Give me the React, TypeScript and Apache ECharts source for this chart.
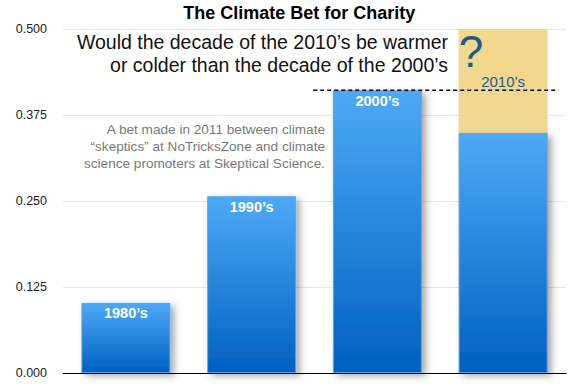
import React, { useEffect, useRef } from "react";
import * as echarts from "echarts";

const categories = ["1980’s", "1990’s", "2000’s", "2010’s"];
const decadeValues = [0.102, 0.257, 0.411, 0.349];
const uncertainTop = [null, null, null, 0.5];
const yTicks = [0, 0.125, 0.25, 0.375, 0.5];
const betLine = [
  [1.49, 0.411],
  [3.44, 0.411],
];

const FONT = "'Liberation Sans', Helvetica, Arial, sans-serif";

export default function App() {
  const ref = useRef<HTMLDivElement>(null);
  useEffect(() => {
    if (!ref.current) return;
    const chart = echarts.init(ref.current, null, { renderer: "svg" });
    const blueGrad = new echarts.graphic.LinearGradient(0, 0, 0, 1, [
      { offset: 0, color: "#4ea9f6" },
      { offset: 1, color: "#0060c2" },
    ]);
    chart.setOption({
      animation: false,
      grid: { left: 63, right: 4, top: 29, bottom: 16 },
      xAxis: [
        {
          type: "category",
          data: categories,
          axisLine: { show: true, lineStyle: { color: "#000", width: 1.2 } },
          axisTick: { show: false },
          axisLabel: { show: false },
          splitLine: { show: false },
        },
        {
          type: "value",
          min: -0.5,
          max: 3.5,
          show: false,
        },
      ],
      yAxis: {
        type: "value",
        min: yTicks[0],
        max: yTicks[yTicks.length - 1],
        interval: 0.125,
        axisLine: { show: false },
        axisTick: { show: false },
        axisLabel: {
          formatter: (v: number) => v.toFixed(3),
          color: "#222",
          fontSize: 12.5,
          fontFamily: FONT,
          margin: 16,
        },
        splitLine: { lineStyle: { color: "#e6e6e6", width: 1 } },
      },
      series: [
        {
          type: "bar",
          data: uncertainTop,
          barWidth: 89,
          barGap: "-100%",
          itemStyle: { color: "#f2d88f" },
          label: {
            show: true,
            formatter: () => categories[3],
            position: ["50%", 52],
            align: "center",
            verticalAlign: "middle",
            color: "#1d5a8c",
            fontSize: 15,
            fontFamily: FONT,
          },
          z: 1,
        },
        {
          type: "bar",
          data: uncertainTop,
          barWidth: 89,
          barGap: "-100%",
          itemStyle: { color: "rgba(0,0,0,0)" },
          label: {
            show: true,
            formatter: "?",
            position: [0, 22],
            align: "left",
            verticalAlign: "middle",
            color: "#1f5a87",
            fontSize: 44,
            fontFamily: FONT,
          },
          z: 2,
        },
        {
          type: "bar",
          data: decadeValues.map((v, i) =>
            i === 3 ? { value: v, label: { show: false } } : v
          ),
          barWidth: 89,
          barGap: "-100%",
          itemStyle: {
            color: blueGrad,
            borderColor: "rgba(80,165,245,0.9)",
            borderWidth: 1,
            shadowColor: "rgba(0,0,0,0.35)",
            shadowBlur: 7,
            shadowOffsetX: 4,
            shadowOffsetY: 3,
          },
          label: {
            show: true,
            position: "insideTop",
            distance: 3,
            formatter: (p: any) => p.name,
            color: "#fff",
            fontSize: 14.5,
            fontWeight: "bold",
            fontFamily: FONT,
          },
          z: 3,
        },
        {
          type: "line",
          xAxisIndex: 1,
          data: betLine,
          symbol: "none",
          lineStyle: { color: "#000", width: 1.5, type: [4, 3] },
          z: 5,
        },
      ],
      graphic: [
        {
          type: "text",
          x: 299.3,
          y: 13,
          style: {
            text: "The Climate Bet for Charity",
            align: "center",
            verticalAlign: "middle",
            font: `bold 18px ${FONT}`,
            fill: "#000",
          },
          z: 10,
        },
        {
          type: "text",
          x: 448,
          y: 30.5,
          style: {
            text: "Would the decade of the 2010’s be warmer\nor colder than the decade of the 2000’s",
            align: "right",
            verticalAlign: "top",
            font: `19.5px ${FONT}`,
            lineHeight: 23,
            fill: "#111",
          },
          z: 10,
        },
        {
          type: "text",
          x: 325,
          y: 121.5,
          style: {
            text: "A bet made in 2011 between climate\n“skeptics” at NoTricksZone and climate\nscience promoters at Skeptical Science.",
            align: "right",
            verticalAlign: "top",
            font: `13.6px ${FONT}`,
            lineHeight: 16.7,
            fill: "#7a7a7a",
          },
          z: 10,
        },
      ],
    });
    return () => chart.dispose();
  }, []);
  return (
    <div
      ref={ref}
      style={{ position: "fixed", left: 0, top: 0, width: 570, height: 389, background: "#fff" }}
    />
  );
}
